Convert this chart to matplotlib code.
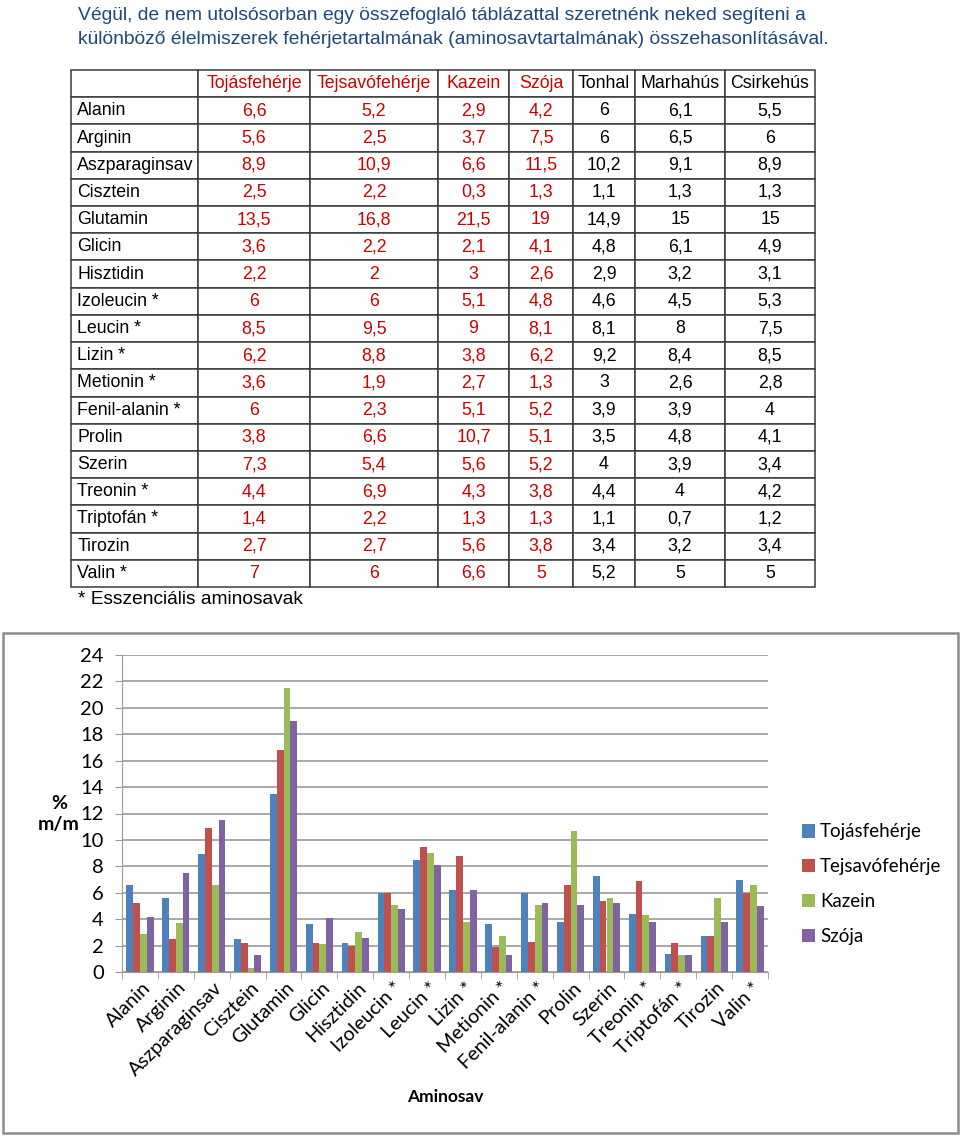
import numpy as np
import matplotlib.pyplot as plt
import matplotlib.transforms as mtransforms
from matplotlib.table import Table
from matplotlib.patches import Rectangle

plt.rcParams['font.family'] = ['Liberation Sans', 'DejaVu Sans']

# aminosavak
categories = ['Alanin', 'Arginin', 'Aszparaginsav', 'Cisztein', 'Glutamin', 'Glicin',
              'Hisztidin', 'Izoleucin *', 'Leucin *', 'Lizin *', 'Metionin *',
              'Fenil-alanin *', 'Prolin', 'Szerin', 'Treonin *', 'Triptofán *',
              'Tirozin', 'Valin *']
columns = ['Tojásfehérje', 'Tejsavófehérje', 'Kazein', 'Szója', 'Tonhal', 'Marhahús', 'Csirkehús']

tojas = [6.6, 5.6, 8.9, 2.5, 13.5, 3.6, 2.2, 6, 8.5, 6.2, 3.6, 6, 3.8, 7.3, 4.4, 1.4, 2.7, 7]
tejsavo = [5.2, 2.5, 10.9, 2.2, 16.8, 2.2, 2, 6, 9.5, 8.8, 1.9, 2.3, 6.6, 5.4, 6.9, 2.2, 2.7, 6]
kazein = [2.9, 3.7, 6.6, 0.3, 21.5, 2.1, 3, 5.1, 9, 3.8, 2.7, 5.1, 10.7, 5.6, 4.3, 1.3, 5.6, 6.6]
szoja = [4.2, 7.5, 11.5, 1.3, 19, 4.1, 2.6, 4.8, 8.1, 6.2, 1.3, 5.2, 5.1, 5.2, 3.8, 1.3, 3.8, 5]
tonhal = [6, 6, 10.2, 1.1, 14.9, 4.8, 2.9, 4.6, 8.1, 9.2, 3, 3.9, 3.5, 4, 4.4, 1.1, 3.4, 5.2]
marha = [6.1, 6.5, 9.1, 1.3, 15, 6.1, 3.2, 4.5, 8, 8.4, 2.6, 3.9, 4.8, 3.9, 4, 0.7, 3.2, 5]
csirke = [5.5, 6, 8.9, 1.3, 15, 4.9, 3.1, 5.3, 7.5, 8.5, 2.8, 4, 4.1, 3.4, 4.2, 1.2, 3.4, 5]

table_series = [tojas, tejsavo, kazein, szoja, tonhal, marha, csirke]
chart_series = [tojas, tejsavo, kazein, szoja]
bar_colors = ['#4F81BD', '#C0504D', '#9BBB59', '#8064A2']

W, H = 960, 1136
fig = plt.figure(figsize=(W / 100, H / 100), dpi=100)


def fx(px):
    return px / W


def fy(py):
    return 1 - py / H


# bevezeto szoveg
intro = ['Végül, de nem utolsósorban egy összefoglaló táblázattal szeretnénk neked segíteni a',
         'különböző élelmiszerek fehérjetartalmának (aminosavtartalmának) összehasonlításával.']
for k, line in enumerate(intro):
    fig.text(fx(78), fy(16 + 23 * k), line, fontsize=13.9, color='#1F497D',
             va='center', ha='left')

# tablazat
tax = fig.add_axes([0, 0, 1, 1])
tax.axis('off')
col_w = [127, 112, 128, 71, 64, 62, 90, 90]
tab = Table(tax, bbox=[fx(71), fy(587), fx(815 - 71), (587 - 70) / H])
red = '#CC0000'
n_rows = len(categories) + 1
for r in range(n_rows):
    for c in range(len(col_w)):
        if r == 0:
            txt = '' if c == 0 else columns[c - 1]
        elif c == 0:
            txt = categories[r - 1]
        else:
            txt = f'{table_series[c - 1][r - 1]:g}'.replace('.', ',')
        cell = tab.add_cell(r, c, width=col_w[c], height=1, text=txt,
                            loc='left' if c == 0 else 'center',
                            edgecolor='#3a3a3a', facecolor='white')
        cell.PAD = 0.05
        cell.set_linewidth(1.1)
        cell.get_text().set_color(red if 1 <= c <= 4 else 'black')
tab.auto_set_font_size(False)
tab.set_fontsize(12.8)
tax.add_table(tab)
fig.text(fx(78), fy(600), '* Esszenciális aminosavak', fontsize=13.8,
         va='center', ha='left')

# diagram keret
fig.patches.append(Rectangle((fx(3), fy(1133)), fx(955), (1133 - 633) / H,
                             transform=fig.transFigure, fill=False,
                             ec='#8c8c8c', lw=1.8))

ax = fig.add_axes([fx(122), fy(972), fx(768 - 122), (972 - 655) / H])
x = np.arange(len(categories))
bw = 0.19
for i, (vals, col, name) in enumerate(zip(chart_series, bar_colors, columns[:4])):
    ax.bar(x + (i - 1.5) * bw, vals, width=bw, color=col, label=name, zorder=3)

ax.set_xlim(-0.5, len(categories) - 0.5)
ax.set_ylim(0, 24)
ax.set_yticks(np.arange(0, 25, 2))
ax.yaxis.grid(True, color='#9a9a9a', lw=1.2, zorder=0)
for s in ['top', 'right']:
    ax.spines[s].set_visible(False)
ax.spines['left'].set_color('#9a9a9a')
ax.spines['bottom'].set_color('#9a9a9a')
ax.tick_params(axis='y', length=5, color='#9a9a9a', labelsize=14.5, pad=8)
for lab in ax.get_yticklabels():
    lab.set_family('Lato')

ax.set_xticks(x)
ax.set_xticklabels(categories, rotation=45, ha='right', rotation_mode='anchor',
                   fontsize=14.3, family='Lato')
ax.tick_params(axis='x', which='major', length=0, pad=5)
shift = mtransforms.ScaledTranslation(2 / 100, 0, fig.dpi_scale_trans)
for lab in ax.get_xticklabels():
    lab.set_transform(lab.get_transform() + shift)
ax.set_xticks(np.arange(len(categories) + 1) - 0.5, minor=True)
ax.tick_params(axis='x', which='minor', length=5, color='#9a9a9a')

fig.text(fx(59), fy(814), '%\nm/m', fontsize=14, fontweight='bold', family='Lato',
         ha='center', va='center', linespacing=1.25)
fig.text(fx(445), fy(1097), 'Aminosav', fontsize=12.5, fontweight='bold', family='Lato',
         ha='center', va='center')

fig.legend(loc='upper left', bbox_to_anchor=(fx(794), fy(816)), frameon=False,
           prop={'family': 'Lato', 'size': 13.5}, handlelength=0.7, handleheight=0.7,
           handletextpad=0.3, labelspacing=0.95, borderaxespad=0)

fig.savefig('out.png', dpi=100)
